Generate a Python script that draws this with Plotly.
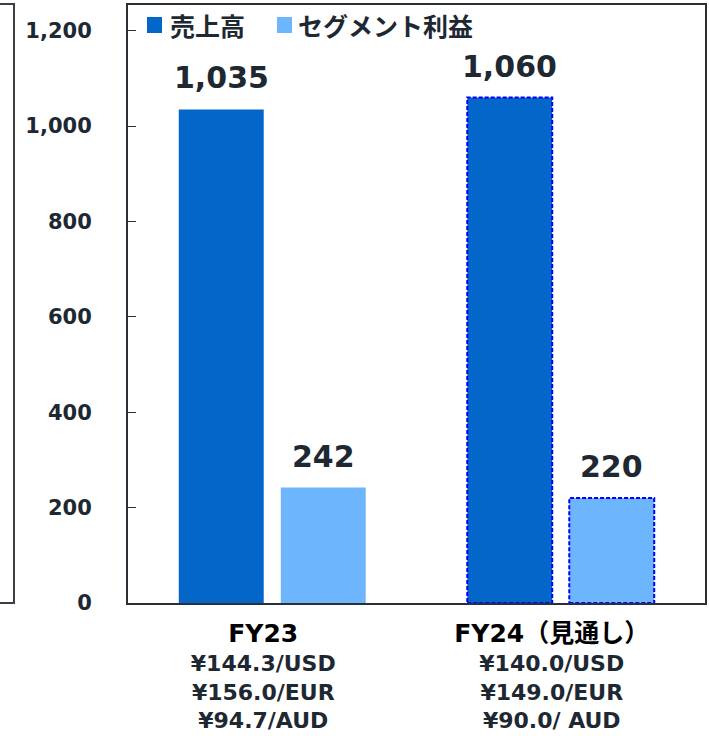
import plotly.graph_objects as go

# ---- data ----
categories = ["FY23", "FY24"]
category_titles = ["FY23", "FY24（見通し）"]
rate_lines = [
    ["¥144.3/USD", "¥156.0/EUR", "¥94.7/AUD"],
    ["¥140.0/USD", "¥149.0/EUR", "¥90.0/ AUD"],
]
series_names = ["売上高", "セグメント利益"]
sales = [1035, 1060]
segment_profit = [242, 220]
is_forecast = [False, True]
y_tick_values = [0, 200, 400, 600, 800, 1000, 1200]

# ---- style ----
DARK = "#0466C8"
LIGHT = "#6DB6FE"
TEXT = "#1E2832"
FONT = "DejaVu Sans, Noto Sans CJK JP"
BARGAP = 0.293
GROUPGAP = 0.167
# legend layout (paper coords): square left/right, text left
LEGEND_POS = [(0.0329, 0.0589, 0.0693), (0.2582, 0.2842, 0.2912)]
LEGEND_Y = (0.9532, 0.9799)

series_values = [sales, segment_profit]
series_colors = [DARK, LIGHT]

fig = go.Figure()
for name, vals, col in zip(series_names, series_values, series_colors):
    fig.add_trace(go.Bar(x=categories, y=vals, name=name, showlegend=False,
                         marker=dict(color=col, line=dict(width=0))))

slot = (1 - BARGAP) / 2
bar_w = slot * (1 - GROUPGAP)
n_series = len(series_values)

shapes = []
annotations = []
for i, cat in enumerate(categories):
    for j, vals in enumerate(series_values):
        center = i + (j - (n_series - 1) / 2) * slot
        annotations.append(dict(
            x=center, y=vals[i], xref="x", yref="y",
            text=f"{vals[i]:,}", showarrow=False,
            yanchor="bottom", yshift=12,
            font=dict(family=FONT, size=30, color=TEXT, weight="bold")))
        if is_forecast[i]:
            shapes.append(dict(
                type="rect", xref="x", yref="y",
                x0=center - bar_w / 2, x1=center + bar_w / 2,
                y0=0, y1=vals[i],
                line=dict(color="#0000FF", width=2, dash="4px,2px"),
                fillcolor="rgba(0,0,0,0)", layer="above"))

# legend (drawn manually to match the square size and spacing)
for name, col, (sx0, sx1, tx) in zip(series_names, series_colors, LEGEND_POS):
    shapes.append(dict(type="rect", xref="paper", yref="paper",
                       x0=sx0, x1=sx1, y0=LEGEND_Y[0], y1=LEGEND_Y[1],
                       fillcolor=col, line=dict(width=0)))
    annotations.append(dict(
        x=tx, y=(LEGEND_Y[0] + LEGEND_Y[1]) / 2, xref="paper", yref="paper",
        text=name, showarrow=False, xanchor="left", yanchor="middle",
        font=dict(family="Noto Sans CJK JP", size=25, color=TEXT,
                  weight="bold")))

# partial frame of neighbouring panel on the far left
shapes.append(dict(
    type="path", xref="paper", yref="paper",
    path="M -0.3,1.0017 L -0.1976,1.0017 L -0.1976,0 L -0.3,0",
    line=dict(color="#3A3F45", width=2)))

tick_text = []
for title, lines in zip(category_titles, rate_lines):
    tick_text.append(
        f"<span style='font-size:25px;color:#000000'>{title}</span><br>"
        + "<br>".join(lines))

fig.update_layout(
    width=709, height=736,
    margin=dict(l=128, r=4, t=5, b=133),
    paper_bgcolor="white", plot_bgcolor="white",
    barmode="group", bargap=BARGAP, bargroupgap=GROUPGAP,
    showlegend=False,
    shapes=shapes,
    annotations=annotations,
)

fig.update_xaxes(
    type="category", categoryorder="array", categoryarray=categories,
    tickmode="array", tickvals=categories, ticktext=tick_text,
    ticks="", showline=True, linecolor="#2B3036", linewidth=2, mirror=True,
    showgrid=False, ticklabelshift=-9, ticklabelstandoff=11, automargin=False,
    tickfont=dict(family=FONT, size=22, color=TEXT, weight="bold"),
    range=[-0.5, 1.5],
)
fig.update_yaxes(
    range=[0, 1254], tickmode="array", tickvals=y_tick_values,
    tickformat=",d", ticks="inside", ticklen=8, tickcolor="#2B3036",
    showline=True, linecolor="#2B3036", linewidth=2, mirror=True,
    showgrid=False, zeroline=False, ticklabelstandoff=30, automargin=False,
    tickfont=dict(family=FONT, size=21, color=TEXT, weight="bold"),
)

fig.write_html("out.html")
